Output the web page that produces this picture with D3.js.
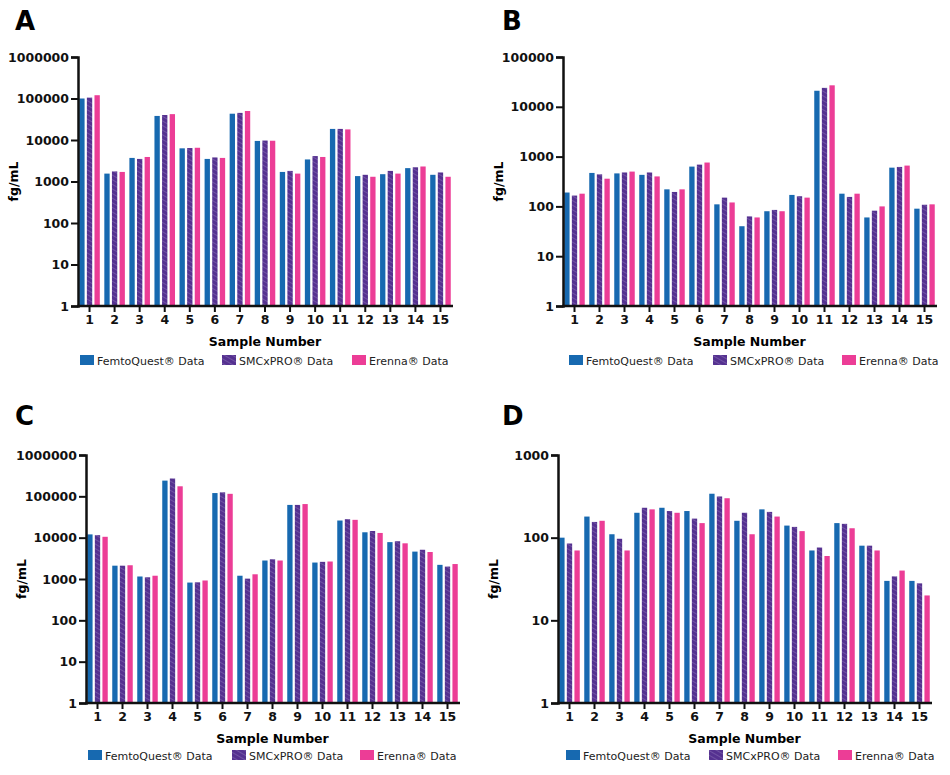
<!DOCTYPE html>
<html><head><meta charset="utf-8">
<script src="https://cdn.jsdelivr.net/npm/d3@7"></script>
<style>
body{margin:0;background:#fff;}
text{font-family:"DejaVu Sans",Verdana,sans-serif;}
</style></head><body>
<svg id="chart" width="950" height="775"></svg>
<script>
var samples = d3.range(1, 16);
var seriesNames = ["FemtoQuest® Data", "SMCxPRO® Data", "Erenna® Data"];

var aFemto = [100000,1550,3700,38000,6300,3500,43000,9500,1700,3400,18500,1350,1500,2100,1450];
var aSmc   = [105000,1750,3500,40000,6400,3800,45000,9700,1800,4100,18500,1450,1800,2200,1650];
var aEren  = [120000,1700,3900,42000,6500,3700,50000,9600,1550,3900,18000,1300,1550,2300,1300];

var bFemto = [190,470,460,430,220,630,110,40,80,170,21000,180,60,600,90];
var bSmc   = [165,440,480,480,195,690,150,63,85,160,24000,155,82,620,108];
var bEren  = [180,360,500,400,220,760,120,60,80,150,27000,180,100,660,110];

var cFemto = [12000,2100,1150,240000,820,120000,1200,2800,62000,2500,26000,13500,7800,4600,2200];
var cSmc   = [11500,2100,1100,270000,830,125000,1020,3000,62000,2600,28000,14500,8200,5100,2000];
var cEren  = [10500,2150,1200,175000,920,115000,1300,2800,65000,2650,27000,13000,7300,4500,2300];

var dFemto = [100,180,110,200,230,210,340,160,220,140,70,150,80,30,30];
var dSmc   = [85,155,97,230,210,170,315,200,205,135,76,147,80,34,28];
var dEren  = [70,160,70,220,200,150,300,110,180,120,60,130,70,40,20];

var colors = ["#1769b0", "url(#hatch)", "#ec3d96"];

var svg = d3.select("#chart");
var defs = svg.append("defs");
var pat = defs.append("pattern").attr("id","hatch").attr("patternUnits","userSpaceOnUse")
  .attr("width",4).attr("height",4).attr("patternTransform","rotate(-60)");
pat.append("rect").attr("width",4).attr("height",4).attr("fill","#553190");
pat.append("line").attr("x1",0).attr("y1",0).attr("x2",0).attr("y2",4)
  .attr("stroke","#9b86c4").attr("stroke-width",0.8);

// panel layout
var panels = [
  {letter:"A", data:[aFemto,aSmc,aEren], max:1e6, x0:78, x1:452, y0:57, y1:306, lx:15, ly:30, legY:362, legX:[80,222,352]},
  {letter:"B", data:[bFemto,bSmc,bEren], max:1e5, x0:563, x1:936, y0:57, y1:306, lx:502, ly:30, legY:362, legX:[569,713,842]},
  {letter:"C", data:[cFemto,cSmc,cEren], max:1e6, x0:86, x1:459, y0:455, y1:703, lx:15, ly:425, legY:757, legX:[88,232,360]},
  {letter:"D", data:[dFemto,dSmc,dEren], max:1e3, x0:558, x1:931, y0:455, y1:703, lx:502, ly:425, legY:757, legX:[566,709,838]}
];

panels.forEach(function(p){
  var g = svg.append("g");
  g.append("text").attr("x",p.lx).attr("y",p.ly).attr("font-size",26).attr("font-weight","bold").text(p.letter);

  var x = d3.scaleBand().domain(samples).range([p.x0, p.x1]).paddingInner(0.18).paddingOuter(0.05);
  var xs = d3.scaleBand().domain([0,1,2]).range([0, x.bandwidth()]).paddingInner(0.3);
  var y = d3.scaleLog().domain([1, p.max]).range([p.y1, p.y0]);

  samples.forEach(function(s, i){
    p.data.forEach(function(arr, k){
      g.append("rect")
        .attr("x", x(s) + xs(k)).attr("width", xs.bandwidth())
        .attr("y", y(arr[i])).attr("height", p.y1 - y(arr[i]))
        .attr("fill", colors[k]);
    });
  });

  var ticks = d3.range(0, Math.round(Math.log10(p.max)) + 1).map(function(e){ return Math.pow(10, e); });
  var ya = g.append("g").attr("transform","translate(" + p.x0 + ",0)")
    .call(d3.axisLeft(y).tickValues(ticks).tickFormat(d3.format("d")).tickSize(7).tickPadding(2));
  var xa = g.append("g").attr("transform","translate(0," + p.y1 + ")")
    .call(d3.axisBottom(x).tickSize(6).tickPadding(3).tickSizeOuter(0));
  [ya, xa].forEach(function(a){
    a.select(".domain").attr("stroke","#111").attr("stroke-width",2.5);
    a.selectAll(".tick line").attr("stroke","#111").attr("stroke-width",2);
    a.selectAll("text").attr("font-size",12.5).attr("font-weight","bold").attr("fill","#111")
      .attr("font-family","DejaVu Sans, sans-serif");
  });
  xa.select(".domain").attr("d","M" + (p.x0 - 1) + ",0H" + (p.x1 + 1));

  g.append("text").attr("x",(p.x0 + p.x1)/2).attr("y",p.y1 + 40).attr("text-anchor","middle")
    .attr("font-size",12.5).attr("font-weight","bold").text("Sample Number");
  g.append("text").attr("transform","translate(" + (p.x0 - 60) + "," + ((p.y0 + p.y1)/2) + ") rotate(-90)")
    .attr("text-anchor","middle").attr("font-size",12.5).attr("font-weight","bold").text("fg/mL");

  seriesNames.forEach(function(n, k){
    g.append("rect").attr("x",p.legX[k]).attr("y",p.legY - 7).attr("width",14).attr("height",10).attr("fill",colors[k]);
    g.append("text").attr("x",p.legX[k] + 17).attr("y",p.legY + 3).attr("font-size",11).attr("fill","#222").text(n);
  });
});
</script>
</body></html>
